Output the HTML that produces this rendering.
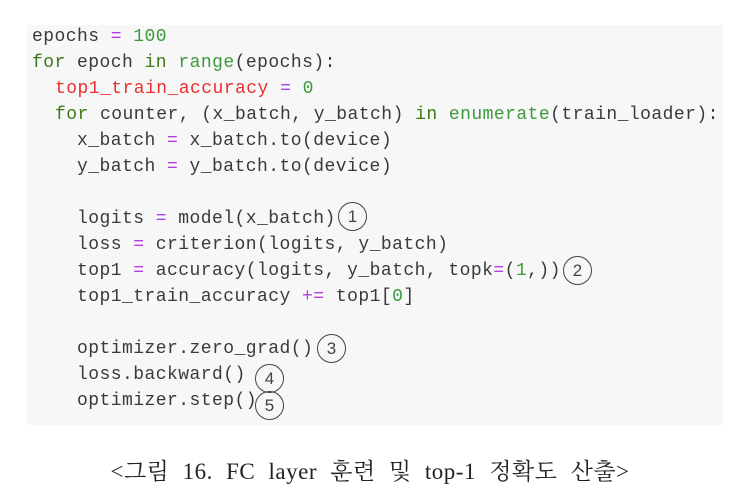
<!DOCTYPE html>
<html><head><meta charset="utf-8"><style>
body{margin:0;width:740px;height:504px;background:#fff;position:relative;overflow:hidden}
.box{position:absolute;left:27px;top:25px;width:696px;height:400px;background:#f7f7f7}
.l{position:absolute;font-family:"Liberation Mono",monospace;font-size:18px;line-height:20px;color:#3a3a3a;white-space:pre;letter-spacing:0.45px}
.k{color:#3c7a18}.g{color:#3c9a3c}.p{color:#b040e0}.r{color:#e83030}
.c{position:absolute;width:27px;height:27px;border:1.3px solid #444;border-radius:50%;font-family:"Liberation Sans",sans-serif;font-size:17px;line-height:27px;text-align:center;color:#444;box-sizing:content-box}
.cap{position:absolute;left:0;width:740px;top:453px;text-align:center;font-family:"Liberation Serif","Noto Serif CJK SC",serif;font-size:23px;word-spacing:7px;letter-spacing:0.5px;color:#222}
</style></head><body>
<div class="box"></div>
<div class="l" style="left:32px;top:27px">epochs <span class="p">=</span> <span class="g">100</span></div>
<div class="l" style="left:32px;top:53px"><span class="k">for</span> epoch <span class="k">in</span> <span class="g">range</span>(epochs):</div>
<div class="l" style="left:55px;top:79px"><span class="r">top1_train_accuracy</span> <span class="p">=</span> <span class="g">0</span></div>
<div class="l" style="left:55px;top:105px"><span class="k">for</span> counter, (x_batch, y_batch) <span class="k">in</span> <span class="g">enumerate</span>(train_loader):</div>
<div class="l" style="left:77px;top:131px">x_batch <span class="p">=</span> x_batch.to(device)</div>
<div class="l" style="left:77px;top:157px">y_batch <span class="p">=</span> y_batch.to(device)</div>
<div class="l" style="left:77px;top:209px">logits <span class="p">=</span> model(x_batch)</div>
<div class="l" style="left:77px;top:235px">loss <span class="p">=</span> criterion(logits, y_batch)</div>
<div class="l" style="left:77px;top:261px">top1 <span class="p">=</span> accuracy(logits, y_batch, topk<span class="p">=</span>(<span class="g">1</span>,))</div>
<div class="l" style="left:77px;top:287px">top1_train_accuracy <span class="p">+=</span> top1[<span class="g">0</span>]</div>
<div class="l" style="left:77px;top:339px">optimizer.zero_grad()</div>
<div class="l" style="left:77px;top:365px">loss.backward()</div>
<div class="l" style="left:77px;top:391px">optimizer.step()</div>
<div class="c" style="left:338px;top:202px">1</div>
<div class="c" style="left:563px;top:256px">2</div>
<div class="c" style="left:317px;top:334px">3</div>
<div class="c" style="left:255px;top:364px">4</div>
<div class="c" style="left:255px;top:391px">5</div>
<div class="cap">&lt;그림 16. FC layer 훈련 및 top-1 정확도 산출&gt;</div>
</body></html>
